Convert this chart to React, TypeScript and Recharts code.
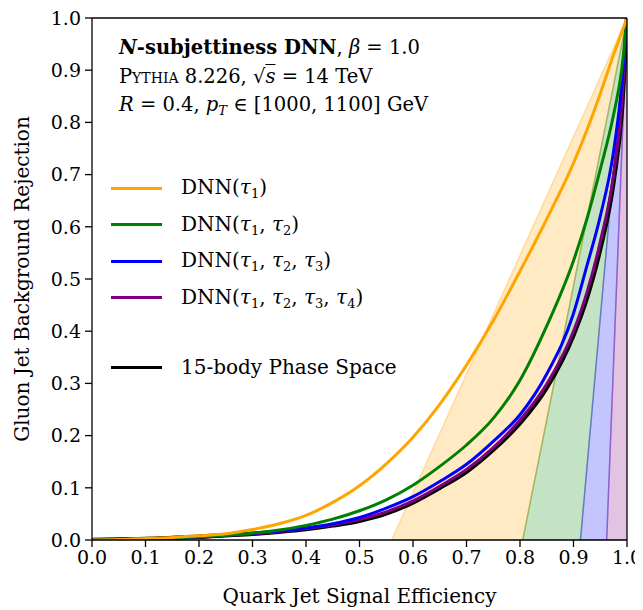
import React from 'react'
import {
  ComposedChart, Line, Area, XAxis, YAxis, ReferenceLine, Label
} from 'recharts'

// quark efficiency grid (x) and gluon rejection for each model (y)
const effGrid = [0, 0.05, 0.1, 0.15, 0.2, 0.25, 0.3, 0.35, 0.4, 0.45, 0.5, 0.55, 0.6, 0.65, 0.7, 0.75, 0.8, 0.85, 0.9, 0.925, 0.95, 0.975, 0.99, 1.0]
const dnnTau1 = [0, 0.001, 0.003, 0.005, 0.008, 0.012, 0.02, 0.031, 0.047, 0.072, 0.104, 0.146, 0.197, 0.26, 0.335, 0.42, 0.515, 0.615, 0.722, 0.785, 0.855, 0.93, 0.972, 1.0]
const dnnTau12 = [0, 0.001, 0.002, 0.004, 0.006, 0.009, 0.013, 0.019, 0.028, 0.04, 0.056, 0.077, 0.105, 0.141, 0.182, 0.233, 0.306, 0.41, 0.535, 0.615, 0.71, 0.815, 0.9, 1.0]
const dnnTau123 = [0, 0.001, 0.002, 0.004, 0.006, 0.009, 0.012, 0.017, 0.023, 0.031, 0.043, 0.061, 0.083, 0.112, 0.145, 0.189, 0.24, 0.318, 0.434, 0.525, 0.62, 0.745, 0.87, 1.0]
const dnnTau1234 = [0, 0.001, 0.002, 0.004, 0.006, 0.009, 0.012, 0.016, 0.022, 0.029, 0.039, 0.054, 0.075, 0.103, 0.135, 0.177, 0.23, 0.299, 0.4, 0.474, 0.571, 0.7, 0.833, 1.0]
const phaseSpace15 = [0, 0.001, 0.002, 0.004, 0.006, 0.009, 0.012, 0.016, 0.021, 0.028, 0.037, 0.051, 0.072, 0.1, 0.131, 0.173, 0.224, 0.292, 0.393, 0.464, 0.558, 0.688, 0.82, 1.0]

// x-intercepts of the shaded wedges (orange, green, blue, purple)
const wedgeStarts = [0.56, 0.805, 0.913, 0.962]

const seriesKeys = ['tau1', 'tau12', 'tau123', 'tau1234', 'ps15']
const seriesVals = [dnnTau1, dnnTau12, dnnTau123, dnnTau1234, phaseSpace15]
const colors = ['#FFA500', '#008000', '#0000FF', '#800080', '#000000']
const wedgeKeys = ['w0', 'w1', 'w2', 'w3']

const cutLine = (x0: number, x: number) => (x0 >= 1 ? 0 : (x - x0) / (1 - x0))

const allX = Array.from(new Set([...effGrid, ...wedgeStarts])).sort((a, b) => a - b)
const data = allX.map((x) => {
  const row: Record<string, any> = { x }
  const gi = effGrid.indexOf(x)
  seriesKeys.forEach((k, i) => {
    row[k] = gi >= 0 ? seriesVals[i][gi] : undefined
  })
  wedgeStarts.forEach((s, i) => {
    const next = i + 1 < wedgeStarts.length ? wedgeStarts[i + 1] : 1
    row[wedgeKeys[i]] = x >= s ? [Math.max(0, cutLine(next, x)), cutLine(s, x)] : undefined
  })
  return row
})

const ticks = [0, 0.1, 0.2, 0.3, 0.4, 0.5, 0.6, 0.7, 0.8, 0.9, 1.0]
const FONT = '"DejaVu Serif", serif'
const tickStyle = { fontSize: 19, fontFamily: FONT, fill: '#000' }

const Tau = ({ n }: { n: number }) => (
  <span><i>τ</i><sub style={{ fontSize: 13, verticalAlign: -4 }}>{n}</sub></span>
)

const legendRows: { color: string; label: React.ReactNode; gap?: boolean }[] = [
  { color: colors[0], label: <>DNN(<Tau n={1} />)</> },
  { color: colors[1], label: <>DNN(<Tau n={1} />, <Tau n={2} />)</> },
  { color: colors[2], label: <>DNN(<Tau n={1} />, <Tau n={2} />, <Tau n={3} />)</> },
  { color: colors[3], label: <>DNN(<Tau n={1} />, <Tau n={2} />, <Tau n={3} />, <Tau n={4} />)</> },
  { color: colors[4], label: <>15-body Phase Space</>, gap: true },
]

export default function App() {
  return (
    <div style={{ position: 'relative', left: -8, top: -8, width: 643, height: 610, background: '#fff', fontFamily: FONT }}>
      <ComposedChart width={643} height={610} data={data} margin={{ top: 18, right: 16, bottom: 0, left: 0 }} style={{ fontFamily: FONT }}>
        {wedgeKeys.map((k, i) => (
          <Area
            key={k}
            dataKey={k}
            type="linear"
            fill={colors[i]}
            fillOpacity={0.23}
            stroke={colors[i]}
            strokeOpacity={0.3}
            strokeWidth={1.5}
            isAnimationActive={false}
          />
        ))}
        <XAxis
          dataKey="x"
          type="number"
          domain={[0, 1]}
          ticks={ticks}
          tickFormatter={(v: number) => v.toFixed(1)}
          tick={tickStyle}
          tickSize={7}
          tickMargin={4}
          height={70}
          stroke="#000"
          strokeWidth={1.3}
          allowDataOverflow
        >
          <Label value="Quark Jet Signal Efficiency" position="center" dy={21} fontFamily={FONT} fontSize={20} fill="#000" />
        </XAxis>
        <YAxis
          type="number"
          domain={[0, 1]}
          ticks={ticks}
          tickFormatter={(v: number) => v.toFixed(1)}
          tick={tickStyle}
          tickSize={7}
          tickMargin={4}
          width={92}
          stroke="#000"
          strokeWidth={1.3}
          allowDataOverflow
        >
          <Label value="Gluon Jet Background Rejection" angle={-90} position="center" dx={-24} fontFamily={FONT} fontSize={20} fill="#000" />
        </YAxis>
        {[4, 3, 2, 1, 0].map((i) => (
          <Line
            key={seriesKeys[i]}
            dataKey={seriesKeys[i]}
            type="monotone"
            stroke={colors[i]}
            strokeWidth={i === 4 ? 4.5 : 3}
            dot={false}
            connectNulls
            isAnimationActive={false}
          />
        ))}
        <ReferenceLine y={1} stroke="#000" strokeWidth={1.3} />
        <ReferenceLine x={1} stroke="#000" strokeWidth={1.3} />
      </ComposedChart>

      <div style={{ position: 'absolute', left: 119, top: 34, fontSize: 19.5, lineHeight: '28.5px', color: '#000' }}>
        <div><b><i>N</i>-subjettiness DNN</b>, <i>β</i> = 1.0</div>
        <div><span style={{ fontVariant: 'small-caps' }}>Pythia</span> 8.226, √<span style={{ textDecoration: 'overline' }}><i>s</i></span> = 14 TeV</div>
        <div><i>R</i> = 0.4, <i>p</i><sub style={{ fontSize: 13, verticalAlign: -4 }}><i>T</i></sub> ∈ [1000, 1100] GeV</div>
      </div>

      <div style={{ position: 'absolute', left: 111, top: 170, fontSize: 20, color: '#000' }}>
        {legendRows.map((r, i) => (
          <div key={i} style={{ display: 'flex', alignItems: 'center', height: 36.5, marginTop: r.gap ? 33 : 0 }}>
            <span style={{ width: 51, borderTop: `3px solid ${r.color}`, marginRight: 19 }} />
            <span style={{ whiteSpace: 'nowrap' }}>{r.label}</span>
          </div>
        ))}
      </div>
    </div>
  )
}
